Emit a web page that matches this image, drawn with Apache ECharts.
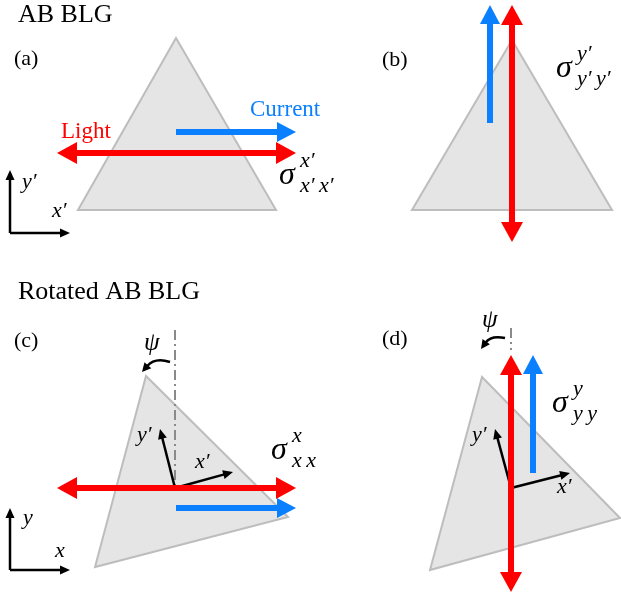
<!DOCTYPE html>
<html>
<head>
<meta charset="utf-8">
<script src="https://cdn.jsdelivr.net/npm/echarts@6/dist/echarts.min.js"></script>
<style>
  html, body { margin: 0; padding: 0; background: #ffffff; }
  #chart { width: 621px; height: 595px; }
</style>
</head>
<body>
<div id="chart"></div>
<script>
// Flake outlines: three vertices [x1,y1,x2,y2,x3,y3] per panel (a)-(d)
const flakes = [
  [176, 38, 78, 210, 276, 210],
  [512, 40, 412, 210, 612, 210],
  [146, 376, 288, 517, 95, 567],
  [482, 377, 620, 518, 430, 570]
];

// Light polarisation (double headed): [x1,y1,x2,y2]
const lightArrows = [
  [57, 153, 296, 153],
  [512, 5, 512, 242],
  [57, 488, 296, 488],
  [511, 355, 511, 592]
];

// Current direction (single head at second point)
const currentArrows = [
  [176, 132, 296, 132],
  [490, 123, 490, 5],
  [176, 508, 296, 508],
  [533, 473, 533, 355]
];

// Coordinate frames: lab frame glyphs and rotated crystal frames
const frameArrows = [
  [10, 233, 10, 170], [10, 233, 70, 233],
  [10, 570, 10, 508], [10, 570, 70, 570],
  [175, 488, 160, 429], [175, 488, 233, 472],
  [511, 488, 495, 429], [511, 488, 570, 473]
];

// Rotation angle arcs: [start x, start y, control x, control y, end x, end y]
const rotationArcs = [
  [170, 362, 155, 357, 142, 372],
  [505, 338, 491, 335, 481, 349]
];

// Reference vertical (dash-dot)
const normalLines = [
  [175, 330, 175, 488],
  [511, 328, 511, 350]
];

// Text
const headings = [
  { text: 'AB BLG', x: 18, y: 15 },
  { text: 'Rotated AB BLG', x: 18, y: 292 }
];
const panelTags = [
  { text: '(a)', x: 14, y: 59 },
  { text: '(b)', x: 382, y: 60 },
  { text: '(c)', x: 14, y: 341 },
  { text: '(d)', x: 382, y: 339 }
];
const lightLabels = [{ text: 'Light', x: 61, y: 132 }];
const currentLabels = [{ text: 'Current', x: 250, y: 110 }];
const axisNames = [
  { text: 'y\u2032', x: 22, y: 182 },
  { text: 'x\u2032', x: 52, y: 211 },
  { text: 'y', x: 23, y: 518 },
  { text: 'x', x: 55, y: 551 },
  { text: 'y\u2032', x: 137, y: 435 },
  { text: 'x\u2032', x: 195, y: 462 },
  { text: 'y\u2032', x: 472, y: 435 },
  { text: 'x\u2032', x: 557, y: 487 }
];
const angleNames = [
  { text: '\u03c8', x: 144, y: 343 },
  { text: '\u03c8', x: 482, y: 320 }
];
const conductivities = [
  { base: '\u03c3', sup: 'x\u2032', sub: 'x\u2032\u2009x\u2032', x: 279, y: 176 },
  { base: '\u03c3', sup: 'y\u2032', sub: 'y\u2032\u2009y\u2032', x: 556, y: 69 },
  { base: '\u03c3', sup: 'x', sub: 'x\u2009x', x: 271, y: 451 },
  { base: '\u03c3', sup: 'y', sub: 'y\u2009y', x: 552, y: 404 }
];

const RED = '#ff0000';
const BLUE = '#0a80ff';
const SERIF = '"Liberation Serif", "Times New Roman", serif';

function arrowGroup(a, b, color, w, hl, hw, both) {
  const dx = b[0] - a[0], dy = b[1] - a[1];
  const L = Math.hypot(dx, dy), ux = dx / L, uy = dy / L, nx = -uy, ny = ux;
  const head = (tip, sx, sy) => ({
    type: 'polygon',
    shape: { points: [
      tip,
      [tip[0] - sx * hl + nx * hw, tip[1] - sy * hl + ny * hw],
      [tip[0] - sx * hl - nx * hw, tip[1] - sy * hl - ny * hw]
    ] },
    style: { fill: color }
  });
  const start = both ? [a[0] + ux * (hl - 1), a[1] + uy * (hl - 1)] : a;
  const end = [b[0] - ux * (hl - 1), b[1] - uy * (hl - 1)];
  const children = [{
    type: 'line',
    shape: { x1: start[0], y1: start[1], x2: end[0], y2: end[1] },
    style: { stroke: color, lineWidth: w, lineCap: 'butt' }
  }, head(b, ux, uy)];
  if (both) children.push(head(a, -ux, -uy));
  return { type: 'group', children };
}

function arrowSeries(list, color, w, hl, hw, both, z) {
  return {
    type: 'custom', coordinateSystem: 'cartesian2d', clip: false, silent: true, z,
    data: list,
    renderItem: (params, api) => {
      const a = api.coord([api.value(0), api.value(1)]);
      const b = api.coord([api.value(2), api.value(3)]);
      return arrowGroup(a, b, color, w, hl, hw, both);
    }
  };
}

function textSeries(list, font, color, z) {
  return {
    type: 'custom', coordinateSystem: 'cartesian2d', clip: false, silent: true, z,
    data: list.map(d => [d.x, d.y]),
    renderItem: (params, api) => {
      const p = api.coord([api.value(0), api.value(1)]);
      return {
        type: 'text', x: p[0], y: p[1],
        style: { text: list[params.dataIndex].text, font, fill: color, align: 'left', verticalAlign: 'middle' }
      };
    }
  };
}

const option = {
  animation: false,
  backgroundColor: '#ffffff',
  grid: { left: 0, right: 0, top: 0, bottom: 0 },
  xAxis: { type: 'value', min: 0, max: 621, show: false },
  yAxis: { type: 'value', min: 0, max: 595, inverse: true, show: false },
  series: [
    {
      type: 'custom', coordinateSystem: 'cartesian2d', clip: false, silent: true, z: 1,
      data: flakes,
      renderItem: (params, api) => {
        const pts = [0, 1, 2].map(i => api.coord([api.value(2 * i), api.value(2 * i + 1)]));
        return { type: 'polygon', shape: { points: pts }, style: { fill: '#e5e5e5', stroke: '#bdbdbd', lineWidth: 2 } };
      }
    },
    {
      type: 'custom', coordinateSystem: 'cartesian2d', clip: false, silent: true, z: 2,
      data: normalLines,
      renderItem: (params, api) => {
        const a = api.coord([api.value(0), api.value(1)]);
        const b = api.coord([api.value(2), api.value(3)]);
        return { type: 'line', shape: { x1: a[0], y1: a[1], x2: b[0], y2: b[1] },
          style: { stroke: '#8a8a8a', lineWidth: 2, lineDash: [10, 4, 2, 4] } };
      }
    },
    {
      type: 'custom', coordinateSystem: 'cartesian2d', clip: false, silent: true, z: 3,
      data: rotationArcs,
      renderItem: (params, api) => {
        const s = api.coord([api.value(0), api.value(1)]);
        const c = api.coord([api.value(2), api.value(3)]);
        const e = api.coord([api.value(4), api.value(5)]);
        const dx = e[0] - c[0], dy = e[1] - c[1], L = Math.hypot(dx, dy);
        const ux = dx / L, uy = dy / L, nx = -uy, ny = ux, hl = 9, hw = 4.5;
        const base = [e[0] - ux * (hl - 1), e[1] - uy * (hl - 1)];
        return { type: 'group', children: [
          { type: 'bezierCurve', shape: { x1: s[0], y1: s[1], cpx1: c[0], cpy1: c[1], x2: base[0], y2: base[1] },
            style: { stroke: '#000', lineWidth: 2.5, fill: null } },
          { type: 'polygon', shape: { points: [e,
            [e[0] - ux * hl + nx * hw, e[1] - uy * hl + ny * hw],
            [e[0] - ux * hl - nx * hw, e[1] - uy * hl - ny * hw]] }, style: { fill: '#000' } }
        ] };
      }
    },
    arrowSeries(frameArrows, '#000000', 2.5, 10, 4.5, false, 4),
    arrowSeries(currentArrows, BLUE, 6, 19, 10, false, 5),
    arrowSeries(lightArrows, RED, 6, 20, 11, true, 6),
    textSeries(headings, '26px ' + SERIF, '#000', 7),
    textSeries(panelTags, '22px ' + SERIF, '#000', 7),
    textSeries(lightLabels, '23px ' + SERIF, RED, 7),
    textSeries(currentLabels, '23px ' + SERIF, BLUE, 7),
    textSeries(axisNames, 'italic 22px ' + SERIF, '#000', 7),
    textSeries(angleNames, 'italic 25px ' + SERIF, '#000', 7),
    {
      type: 'custom', coordinateSystem: 'cartesian2d', clip: false, silent: true, z: 7,
      data: conductivities.map(d => [d.x, d.y]),
      renderItem: (params, api) => {
        const d = conductivities[params.dataIndex];
        const p = api.coord([api.value(0), api.value(1)]);
        const t = (text, x, y, size) => ({ type: 'text', x, y,
          style: { text, font: 'italic ' + size + 'px ' + SERIF, fill: '#000', align: 'left', verticalAlign: 'middle' } });
        return { type: 'group', children: [
          t(d.base, p[0], p[1], 32),
          t(d.sup, p[0] + 21, p[1] - 15, 22),
          t(d.sub, p[0] + 21, p[1] + 10, 22)
        ] };
      }
    }
  ]
};

const chart = echarts.init(document.getElementById('chart'), null, { renderer: 'canvas' });
chart.setOption(option);
</script>
</body>
</html>
